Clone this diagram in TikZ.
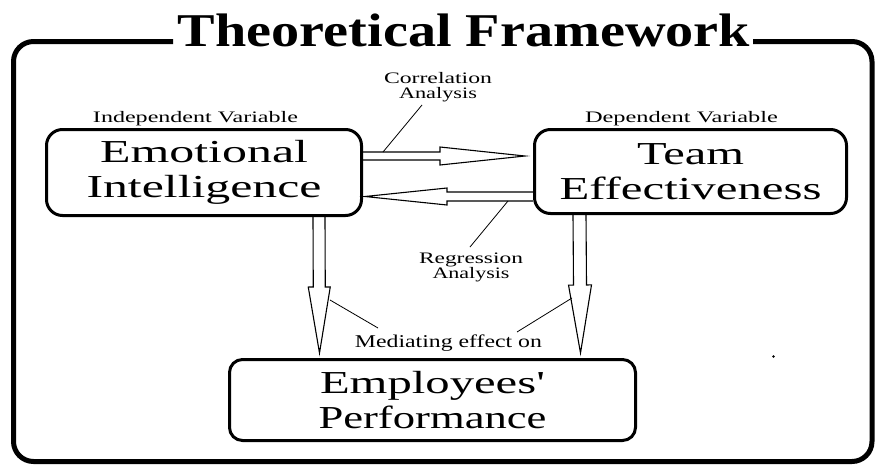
\documentclass[tikz,border=0pt]{standalone}
\usepackage{fontspec}
\setmainfont{Liberation Serif}
\usepackage{graphicx}
\usetikzlibrary{calc}
\newcommand\sx[2]{\resizebox{#1pt}{\height}{#2}}
\newcommand\hollowarrow[5]{%
  \coordinate (hA) at (#1);
  \coordinate (hB) at (#2);
  \coordinate (hC) at ($(hB)!#5pt!(hA)$);
  \draw[arrowline] ($(hA)!#3pt!90:(hB)$) -- ($(hC)!#3pt!-90:(hA)$) -- ($(hC)!#4pt!-90:(hA)$) -- (hB)
     -- ($(hC)!#4pt!90:(hA)$) -- ($(hC)!#3pt!90:(hA)$) -- ($(hA)!#3pt!-90:(hB)$);
}
\tikzset{
  box/.style={draw, line width=3pt, rounded corners=16pt, align=center, inner sep=0pt,
     font=\fontsize{32}{35}\selectfont},
  lbl/.style={inner sep=0pt, align=center, font=\fontsize{16}{15}\selectfont},
  arrowline/.style={line width=1.1pt, line join=miter},
  callout/.style={line width=0.8pt},
  frame/.style={line width=5pt, rounded corners=20pt},
}
\begin{document}
\begin{tikzpicture}[x=1pt,y=-1pt]
\useasboundingbox (0,0) rectangle (878,464);
% title and frame
\node[anchor=base, inner sep=0pt, font=\fontsize{47}{50}\selectfont\bfseries] (title) at (464,46) {\sx{572}{Theoretical Framework}};
\draw[frame] (173,41.5) -- (13.5,41.5) -- (13.5,461.5) -- (872,461.5) -- (872,41.5) -- (753,41.5);
% boxes
\node[box, minimum width=315pt, minimum height=86pt] (ei) at (204,172.5) {\sx{208}{Emotional}\\\sx{235}{Intelligence}};
\node[box, minimum width=312pt, minimum height=84pt] (te) at (690.5,171.5) {\sx{107}{Team}\\\sx{262}{Effectiveness}};
\node[box, rounded corners=13pt, minimum width=406pt, minimum height=81pt] (ep) at (432.5,400) {\sx{225}{Employees\textquotesingle}\\\sx{228}{Performance}};
% labels
\node[lbl, anchor=base] (iv) at (195.5,122) {\sx{205}{Independent Variable}};
\node[lbl, anchor=base] (dv) at (681.5,122) {\sx{193}{Dependent Variable}};
\node[lbl] (corr) at (438,87) {\sx{108}{Correlation}\\\sx{78}{Analysis}};
\node[lbl] (regr) at (471,267) {\sx{104}{Regression}\\\sx{77}{Analysis}};
\node[lbl, anchor=base, font=\fontsize{18}{20}\selectfont] (med) at (448.5,347) {\sx{187}{Mediating effect on}};
% arrows
\coordinate (a1s) at (ei.east |- 0,156);
\coordinate (a1e) at (525,156);
\hollowarrow{a1s}{a1e}{4}{9}{85}
\coordinate (a2s) at (te.west |- 0,196.5);
\coordinate (a2e) at (365,196.5);
\hollowarrow{a2s}{a2e}{4.5}{8.5}{82}
\coordinate (a3s) at (ei.south -| 319,0);
\coordinate (a3e) at (319.5,353);
\hollowarrow{a3s}{a3e}{6}{11}{66}
\coordinate (a4s) at (te.south -| 579.5,0);
\coordinate (a4e) at (580.5,353);
\hollowarrow{a4s}{a4e}{6.5}{11.5}{68}
% callout lines
\coordinate (k1a) at (383,152);
\coordinate (k1b) at (422,105);
\draw[callout] (k1a) -- (k1b);
\coordinate (k2a) at (508,201);
\coordinate (k2b) at (470,247);
\draw[callout] (k2a) -- (k2b);
\coordinate (k3a) at (330,300);
\coordinate (k3b) at (378,328);
\draw[callout] (k3a) -- (k3b);
\coordinate (k4a) at (572,298);
\coordinate (k4b) at (517,332);
\draw[callout] (k4a) -- (k4b);
% stray dot
\fill (773.5,356.5) circle (1.3pt);
\end{tikzpicture}
\end{document}
